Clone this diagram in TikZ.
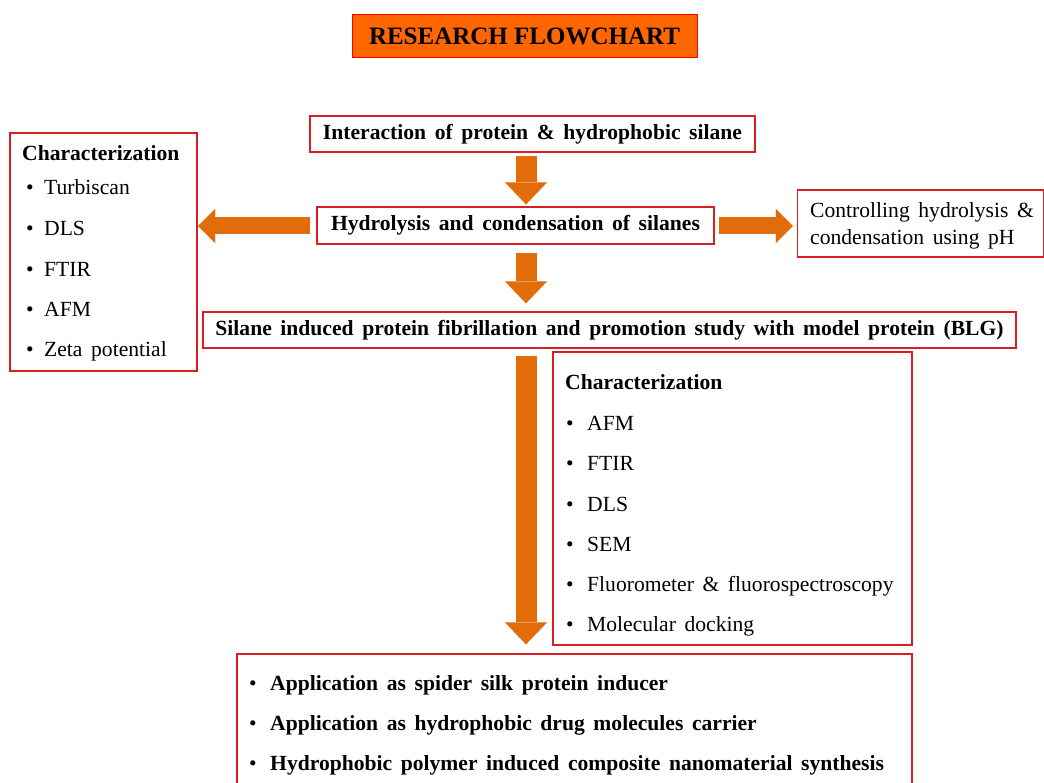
\documentclass[tikz,border=0pt]{standalone}
\usepackage{fontspec}
\setmainfont{Liberation Serif}
\usetikzlibrary{arrows.meta}
\definecolor{arrowor}{RGB}{227,108,10}
\definecolor{titleor}{RGB}{255,102,0}
\definecolor{boxred}{RGB}{215,30,35}
\newcommand\mywidesp{\spaceskip=8.6pt plus 1pt\relax}
\begin{document}
\begin{tikzpicture}[x=1pt,y=-1pt,
  box/.style={draw=boxred, line width=1.3pt, fill=white, inner sep=0pt, align=center},
  bodyfont/.style={font=\fontsize{21.6}{26}\selectfont\mywidesp},
  boldfont/.style={font=\fontsize{21.6}{26}\selectfont\bfseries\mywidesp},
  txt/.style={anchor=base west, inner sep=0pt, bodyfont},
  btxt/.style={anchor=base west, inner sep=0pt, boldfont},
  bul/.style={anchor=base, inner sep=0pt, bodyfont},
  bigarrow/.style={draw=arrowor, line width=21pt, -{Triangle[width=42pt,length=22pt,line width=0.01pt]}, arrowor},
  sidearrow/.style={draw=arrowor, line width=17pt, -{Triangle[width=34pt,length=17pt,line width=0.01pt]}, arrowor}
]
\useasboundingbox (0,0) rectangle (1044,783);

% title
\node[draw=red, line width=1pt, fill=titleor, minimum width=345pt, minimum height=43pt, inner sep=0pt,
  font=\fontsize{25}{30}\selectfont\bfseries] (title) at (524.5,36.5) {RESEARCH FLOWCHART};

% main boxes
\node[box, boldfont, minimum width=445pt, minimum height=36pt] (b1) at (532.5,134) {Interaction of protein \& hydrophobic silane};
\node[box, boldfont, minimum width=397pt, minimum height=37pt] (b2) at (515.5,225.5) {Hydrolysis and condensation of silanes};
\node[box, boldfont, minimum width=813pt, minimum height=36pt] (b3) at (609.5,330) {Silane induced protein fibrillation and promotion study with model protein (BLG)};

% right box
\node[box, minimum width=246pt, minimum height=67pt] (rb) at (920.5,223.5) {};
\node[txt] (rb1) at (810,218) {Controlling hydrolysis \&};
\node[txt] (rb2) at (810,245) {condensation using pH};

% left characterization box
\node[box, minimum width=187pt, minimum height=238pt] (lb) at (103.5,252) {};
\node[btxt] (lbh) at (22,161) {Characterization};
\foreach \y/\t [count=\i] in {195/Turbiscan,236/DLS,277/FTIR,317/AFM,357/Zeta potential}{
  \node[bul] (lbb\i) at (30,\y) {\textbullet};
  \node[txt] (lbt\i) at (44,\y) {\t};
}

% right characterization box
\node[box, minimum width=359pt, minimum height=293pt] (cb) at (732.5,498.5) {};
\node[btxt] (cbh) at (565,390) {Characterization};
\foreach \y/\t [count=\i] in {430/AFM,470/FTIR,511/DLS,551/SEM,591/Fluorometer \& fluorospectroscopy,631/Molecular docking}{
  \node[bul] (cbb\i) at (570,\y) {\textbullet};
  \node[txt] (cbt\i) at (587,\y) {\t};
}

% bottom box
\node[box, minimum width=675pt, minimum height=130pt] (bb) at (574.5,719) {};
\foreach \y/\t [count=\i] in {690/Application as spider silk protein inducer,730/Application as hydrophobic drug molecules carrier,770/Hydrophobic polymer induced composite nanomaterial synthesis}{
  \node[bul] (bbb\i) at (253,\y) {\textbullet};
  \node[btxt] (bbt\i) at (270,\y) {\t};
}

% arrows
\coordinate (xa) at (526,0);
\coordinate (ya) at (0,226);
\draw[bigarrow, shorten <=3pt, shorten >=2pt] (b1.south -| xa) -- (b2.north -| xa);
\draw[bigarrow, shorten <=8pt, shorten >=8pt] (b2.south -| xa) -- (b3.north -| xa);
\draw[bigarrow, shorten <=7pt, shorten >=9pt] (b3.south -| xa) -- (bb.north -| xa);
\draw[sidearrow, shorten <=6pt, shorten >=0.5pt] (b2.west |- ya) -- (lb.east |- ya);
\draw[sidearrow, shorten <=4pt, shorten >=4pt] (b2.east |- ya) -- (rb.west |- ya);
\end{tikzpicture}
\end{document}
